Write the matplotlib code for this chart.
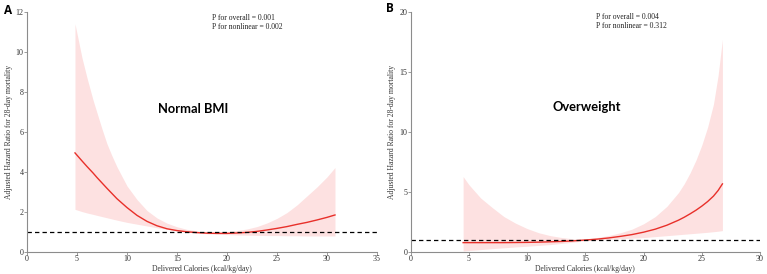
import matplotlib
matplotlib.use("Agg")
import matplotlib.pyplot as plt

# Panel A: Normal BMI
a_x = [4.8, 5.5, 6, 6.6, 7, 7.5, 8, 8.5, 9, 10, 11, 12, 13, 14, 15, 16, 17, 18, 19, 20, 21, 22, 23, 24, 25, 26, 27, 28, 29, 30, 30.8]
a_hr = [4.95, 4.55, 4.27, 3.95, 3.72, 3.45, 3.18, 2.92, 2.66, 2.22, 1.83, 1.53, 1.31, 1.16, 1.07, 1.01, 0.97, 0.94, 0.93, 0.93, 0.95, 0.98, 1.03, 1.1, 1.18, 1.27, 1.38, 1.48, 1.6, 1.73, 1.85]
a_lo = [2.13, 2.02, 1.95, 1.88, 1.83, 1.77, 1.71, 1.65, 1.59, 1.48, 1.39, 1.30, 1.21, 1.13, 1.05, 0.99, 0.94, 0.91, 0.89, 0.87, 0.85, 0.84, 0.83, 0.82, 0.82, 0.81, 0.81, 0.80, 0.80, 0.80, 0.80]
a_hi = [11.4, 9.7, 8.7, 7.6, 6.95, 6.15, 5.4, 4.8, 4.25, 3.3, 2.62, 2.07, 1.7, 1.44, 1.26, 1.13, 1.05, 1.0, 0.99, 1.02, 1.07, 1.15, 1.27, 1.45, 1.68, 1.97, 2.35, 2.8, 3.25, 3.75, 4.22]

# Panel B: Overweight
b_x = [4.5, 5, 6, 7, 8, 9, 10, 11, 12, 13, 14, 15, 16, 17, 18, 19, 20, 21, 22, 23, 23.5, 24, 24.5, 25, 25.5, 26, 26.4, 26.77]
b_hr = [0.78, 0.78, 0.78, 0.78, 0.78, 0.79, 0.8, 0.82, 0.85, 0.88, 0.93, 1.0, 1.07, 1.17, 1.3, 1.45, 1.65, 1.9, 2.23, 2.65, 2.9, 3.18, 3.48, 3.82, 4.2, 4.65, 5.12, 5.67]
b_lo = [0.08, 0.12, 0.2, 0.28, 0.35, 0.42, 0.48, 0.55, 0.62, 0.72, 0.82, 0.95, 1.0, 1.05, 1.1, 1.15, 1.2, 1.28, 1.36, 1.44, 1.48, 1.52, 1.56, 1.6, 1.64, 1.69, 1.73, 1.78]
b_hi = [6.28, 5.6, 4.5, 3.7, 2.95, 2.4, 1.95, 1.6, 1.36, 1.2, 1.09, 1.05, 1.2, 1.37, 1.6, 1.9, 2.35, 2.95, 3.8, 4.95, 5.7, 6.6, 7.65, 8.9, 10.4, 12.3, 14.7, 17.7]

panels = [
    dict(letter="A", x=a_x, hr=a_hr, lo=a_lo, hi=a_hi, xlim=(0, 35), xticks=[0, 5, 10, 15, 20, 25, 30, 35],
         ylim=(0, 12), yticks=[0, 2, 4, 6, 8, 10, 12], title="Normal BMI", title_xy=(16.6, 7.15),
         p=["P for overall = 0.001", "P for nonlinear = 0.002"], p_xy=(18.5, 11.67, 11.23),
         pos=[0.0352, 0.0803, 0.4563, 0.8767]),
    dict(letter="B", x=b_x, hr=b_hr, lo=b_lo, hi=b_hi, xlim=(0, 30), xticks=[0, 5, 10, 15, 20, 25, 30],
         ylim=(0, 20), yticks=[0, 5, 10, 15, 20], title="Overweight", title_xy=(15.1, 12.06),
         p=["P for overall = 0.004", "P for nonlinear = 0.312"], p_xy=(15.9, 19.56, 18.78),
         pos=[0.5355, 0.0803, 0.4554, 0.8767]),
]

fig = plt.figure(figsize=(7.67, 2.74), dpi=100)
serif = "Liberation Serif"
for p in panels:
    ax = fig.add_axes(p["pos"])
    ax.fill_between(p["x"], p["lo"], p["hi"], color="#fde1e1", lw=0)
    ax.plot(p["x"], p["hr"], color="#e8302a", lw=1.0)
    ax.axhline(1, color="black", lw=0.9, ls=(0, (3.5, 2.5)))
    ax.set_xlim(*p["xlim"])
    ax.set_ylim(*p["ylim"])
    ax.set_xticks(p["xticks"])
    ax.set_yticks(p["yticks"])
    for s in ["top", "right"]:
        ax.spines[s].set_visible(False)
    for s in ["left", "bottom"]:
        ax.spines[s].set_color("#8c8c8c")
        ax.spines[s].set_linewidth(0.8)
    ax.tick_params(length=2, width=0.6, color="#8c8c8c", labelsize=5.8, pad=0.5, labelcolor="#333333")
    for lab in ax.get_xticklabels() + ax.get_yticklabels():
        lab.set_family(serif)
    ax.set_xlabel("Delivered Calories (kcal/kg/day)", family=serif, fontsize=5.5, labelpad=1, color="#333333")
    ax.set_ylabel("Adjusted Hazard Ratio for 28-day mortality", family=serif, fontsize=5.5, labelpad=2, color="#333333")
    ax.text(p["title_xy"][0], p["title_xy"][1], p["title"], family="Lato", weight="bold", fontsize=9.3,
            ha="center", va="center", color="black")
    ax.text(p["p_xy"][0], p["p_xy"][1], p["p"][0], family=serif, fontsize=5.5, ha="left", va="center", color="#222222")
    ax.text(p["p_xy"][0], p["p_xy"][2], p["p"][1], family=serif, fontsize=5.5, ha="left", va="center", color="#222222")

fig.text(8 / 767, 1 - 10 / 274, "A", family="Open Sans", weight="bold", fontsize=8.5, ha="center", va="center")
fig.text(390 / 767, 1 - 8 / 274, "B", family="Open Sans", weight="bold", fontsize=8.5, ha="center", va="center")

fig.savefig("out.png", dpi=100)
